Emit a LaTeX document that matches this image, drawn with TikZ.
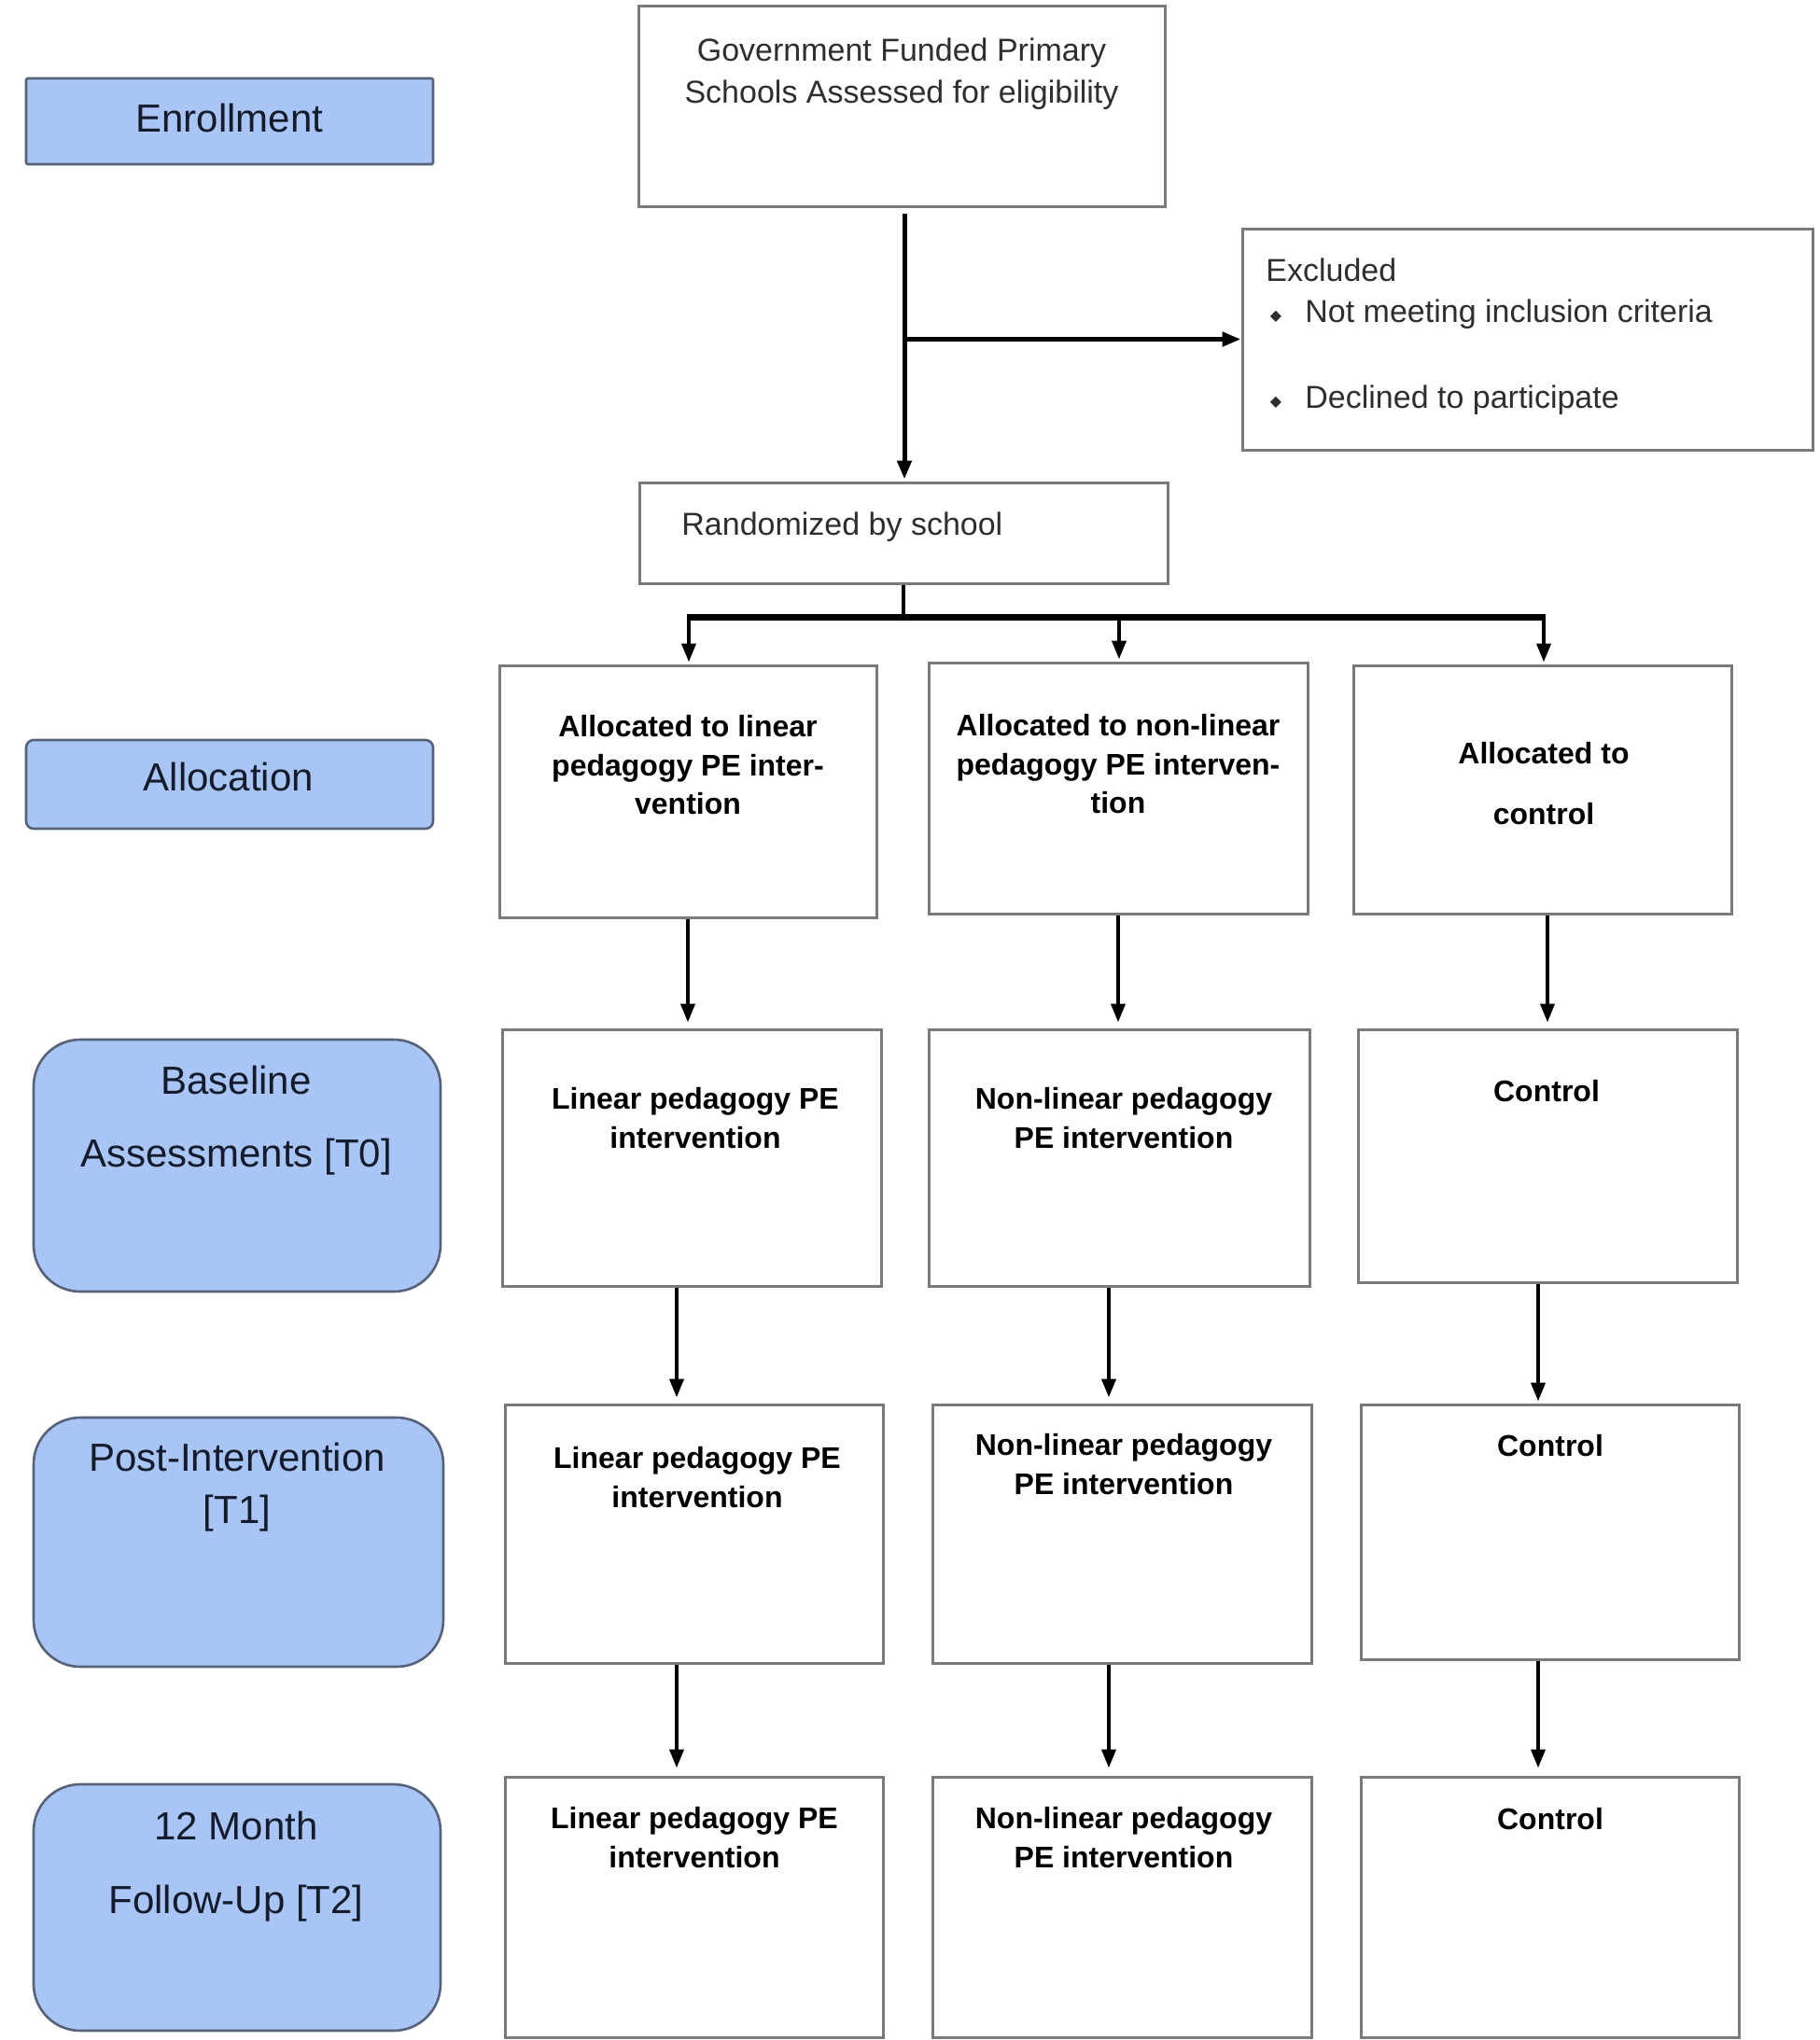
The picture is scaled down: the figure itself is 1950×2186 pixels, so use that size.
\documentclass[tikz,border=0pt]{standalone}
\usepackage{fontspec}
\setmainfont{Liberation Sans}
\newfontfamily\dejavu{DejaVu Sans}
\usetikzlibrary{arrows.meta,calc,fit}
\definecolor{lblfill}{HTML}{A9C5F5}
\definecolor{lbldraw}{HTML}{56627A}
\definecolor{boxdraw}{HTML}{7A7A7A}
\definecolor{lbltext}{HTML}{141C2C}
\definecolor{graytext}{HTML}{2E2E2E}
\begin{document}
\begin{tikzpicture}[x=0.5pt,y=-0.5pt,
  box/.style={draw=boxdraw,line width=1.5pt,fill=white,inner sep=0pt},
  lbl/.style={draw=lbldraw,line width=1.3pt,fill=lblfill,inner sep=0pt},
  lbltxt/.style={inner sep=0pt,align=center,text=lbltext,font=\fontsize{21}{39}\selectfont},
  coltxt/.style={inner sep=0pt,align=center,text=black,font=\bfseries\fontsize{16}{20.75}\selectfont},
  gtxt/.style={inner sep=0pt,text=graytext,font=\fontsize{17}{22.5}\selectfont},
  conn/.style={draw=black,line width=2pt,-{Triangle[length=10pt,width=7.5pt]},shorten >=1pt},
  plain/.style={draw=black,line width=2pt},
  barline/.style={draw=black,line width=3.5pt},
  bul/.style={inner sep=0pt,text=graytext,font=\dejavu\fontsize{8}{8}\selectfont}
]
\fill[white] (0,0) rectangle (1950,2186);
\useasboundingbox (0,0) rectangle (1950,2186);

% left labels
\node[lbl,rounded corners=1pt,fit={(28,84)(464,176)}] (Lenr) {};
\node[lbltxt] (tenr) at (246,126) {Enrollment};
\node[lbl,rounded corners=4pt,fit={(28,793)(464,888)}] (Lalloc) {};
\node[lbltxt] (talloc) at (245,832) {Allocation};
\node[lbl,rounded corners=25pt,fit={(36,1114)(472,1384)}] (Lbase) {};
\node[lbltxt] (tbase) at (253,1201) {Baseline\\Assessments [T0]};
\node[lbl,rounded corners=25pt,fit={(36,1519)(475,1786)}] (Lpost) {};
\node[lbltxt,font=\fontsize{21}{28}\selectfont] (tpost) at (254,1594) {Post-Intervention\\{[T1]}};
\node[lbl,rounded corners=25pt,fit={(36,1912)(472,2176)}] (Lfu) {};
\node[lbltxt,font=\fontsize{21}{39.5}\selectfont] (tfu) at (253,2000) {12 Month\\Follow-Up [T2]};

% top boxes
\node[box,fit={(684,6)(1248,221)}] (gov) {};
\node[gtxt,align=center] (tgov) at (966,79) {Government Funded Primary\\Schools Assessed for eligibility};
\node[box,fit={(1331,245)(1942,482)}] (excl) {};
\node[gtxt,anchor=west] (texcl) at (1356,289) {Excluded};
\node[bul] (b1) at (1367,339) {◆};
\node[gtxt,anchor=west] (texcl1) at (1398,337) {Not meeting inclusion criteria};
\node[bul] (b2) at (1367,431) {◆};
\node[gtxt,anchor=west] (texcl2) at (1398,429) {Declined to participate};
\node[box,fit={(685,517)(1251,625)}] (rand) {};
\node[gtxt,anchor=west] (trand) at (730,565) {Randomized by school};

% allocation row
\node[box,fit={(535,713)(939,983)}] (a1) {};
\node[box,fit={(995,710)(1401,979)}] (a2) {};
\node[box,fit={(1450,713)(1855,979)}] (a3) {};
\node[coltxt] (ta1) at (737,820) {Allocated to linear\\pedagogy PE inter-\\vention};
\node[coltxt] (ta2) at (1198,819) {Allocated to non-linear\\pedagogy PE interven-\\tion};
\node[coltxt,font=\bfseries\fontsize{16}{32.5}\selectfont] (ta3) at (1654,840) {Allocated to\\control};

% baseline row
\node[box,fit={(538,1103)(944,1378)}] (b1box) {};
\node[box,fit={(995,1103)(1403,1378)}] (b2box) {};
\node[box,fit={(1455,1103)(1861,1374)}] (b3box) {};
\node[coltxt] (tb1) at (745,1198) {Linear pedagogy PE\\intervention};
\node[coltxt] (tb2) at (1204,1198) {Non-linear pedagogy\\PE intervention};
\node[coltxt] (tb3) at (1657,1169) {Control};

% post row
\node[box,fit={(541,1505)(946,1782)}] (c1) {};
\node[box,fit={(999,1505)(1405,1782)}] (c2) {};
\node[box,fit={(1458,1505)(1863,1778)}] (c3) {};
\node[coltxt] (tc1) at (747,1583) {Linear pedagogy PE\\intervention};
\node[coltxt] (tc2) at (1204,1569) {Non-linear pedagogy\\PE intervention};
\node[coltxt] (tc3) at (1661,1549) {Control};

% follow-up row
\node[box,fit={(541,1904)(946,2183)}] (d1) {};
\node[box,fit={(999,1904)(1405,2183)}] (d2) {};
\node[box,fit={(1458,1904)(1863,2183)}] (d3) {};
\node[coltxt] (td1) at (744,1969) {Linear pedagogy PE\\intervention};
\node[coltxt] (td2) at (1204,1969) {Non-linear pedagogy\\PE intervention};
\node[coltxt] (td3) at (1661,1949) {Control};

% connectors top
\coordinate (top) at ($(gov.south)+(3,6)$);
\draw[conn,line width=2.5pt] (top) -- (top |- rand.north);
\coordinate (br) at (top |- excl.west);
\draw[plain,line width=2.5pt,-{Triangle[length=10pt,width=7.5pt]}] (br) -- (excl.west);
\coordinate (barL) at (738,661);
\coordinate (barM) at (1199,661);
\coordinate (barR) at (1654,661);
\draw[plain] (rand.south) -- (rand.south |- barL);
\draw[barline] ([xshift=-1pt]barL) -- ([xshift=1pt]barR);
\draw[conn] (barL) -- (barL |- a1.north);
\draw[conn] (barM) -- (barM |- a2.north);
\draw[conn] (barR) -- (barR |- a3.north);

% row connectors
\coordinate (x1) at (737,0);
\coordinate (x2) at (1198,0);
\coordinate (x3) at (1658,0);
\draw[conn,shorten >=3pt] (x1 |- a1.south) -- (x1 |- b1box.north);
\draw[conn,shorten >=3pt] (x2 |- a2.south) -- (x2 |- b2box.north);
\draw[conn,shorten >=3pt] (x3 |- a3.south) -- (x3 |- b3box.north);
\coordinate (y1) at (725,0);
\coordinate (y2) at (1188,0);
\coordinate (y3) at (1648,0);
\draw[conn,shorten >=3pt] (y1 |- b1box.south) -- (y1 |- c1.north);
\draw[conn,shorten >=3pt] (y2 |- b2box.south) -- (y2 |- c2.north);
\draw[conn,shorten >=1pt] (y3 |- b3box.south) -- (y3 |- c3.north);
\draw[conn,shorten >=4pt] (y1 |- c1.south) -- (y1 |- d1.north);
\draw[conn,shorten >=4pt] (y2 |- c2.south) -- (y2 |- d2.north);
\draw[conn,shorten >=4pt] (y3 |- c3.south) -- (y3 |- d3.north);
\end{tikzpicture}
\end{document}
